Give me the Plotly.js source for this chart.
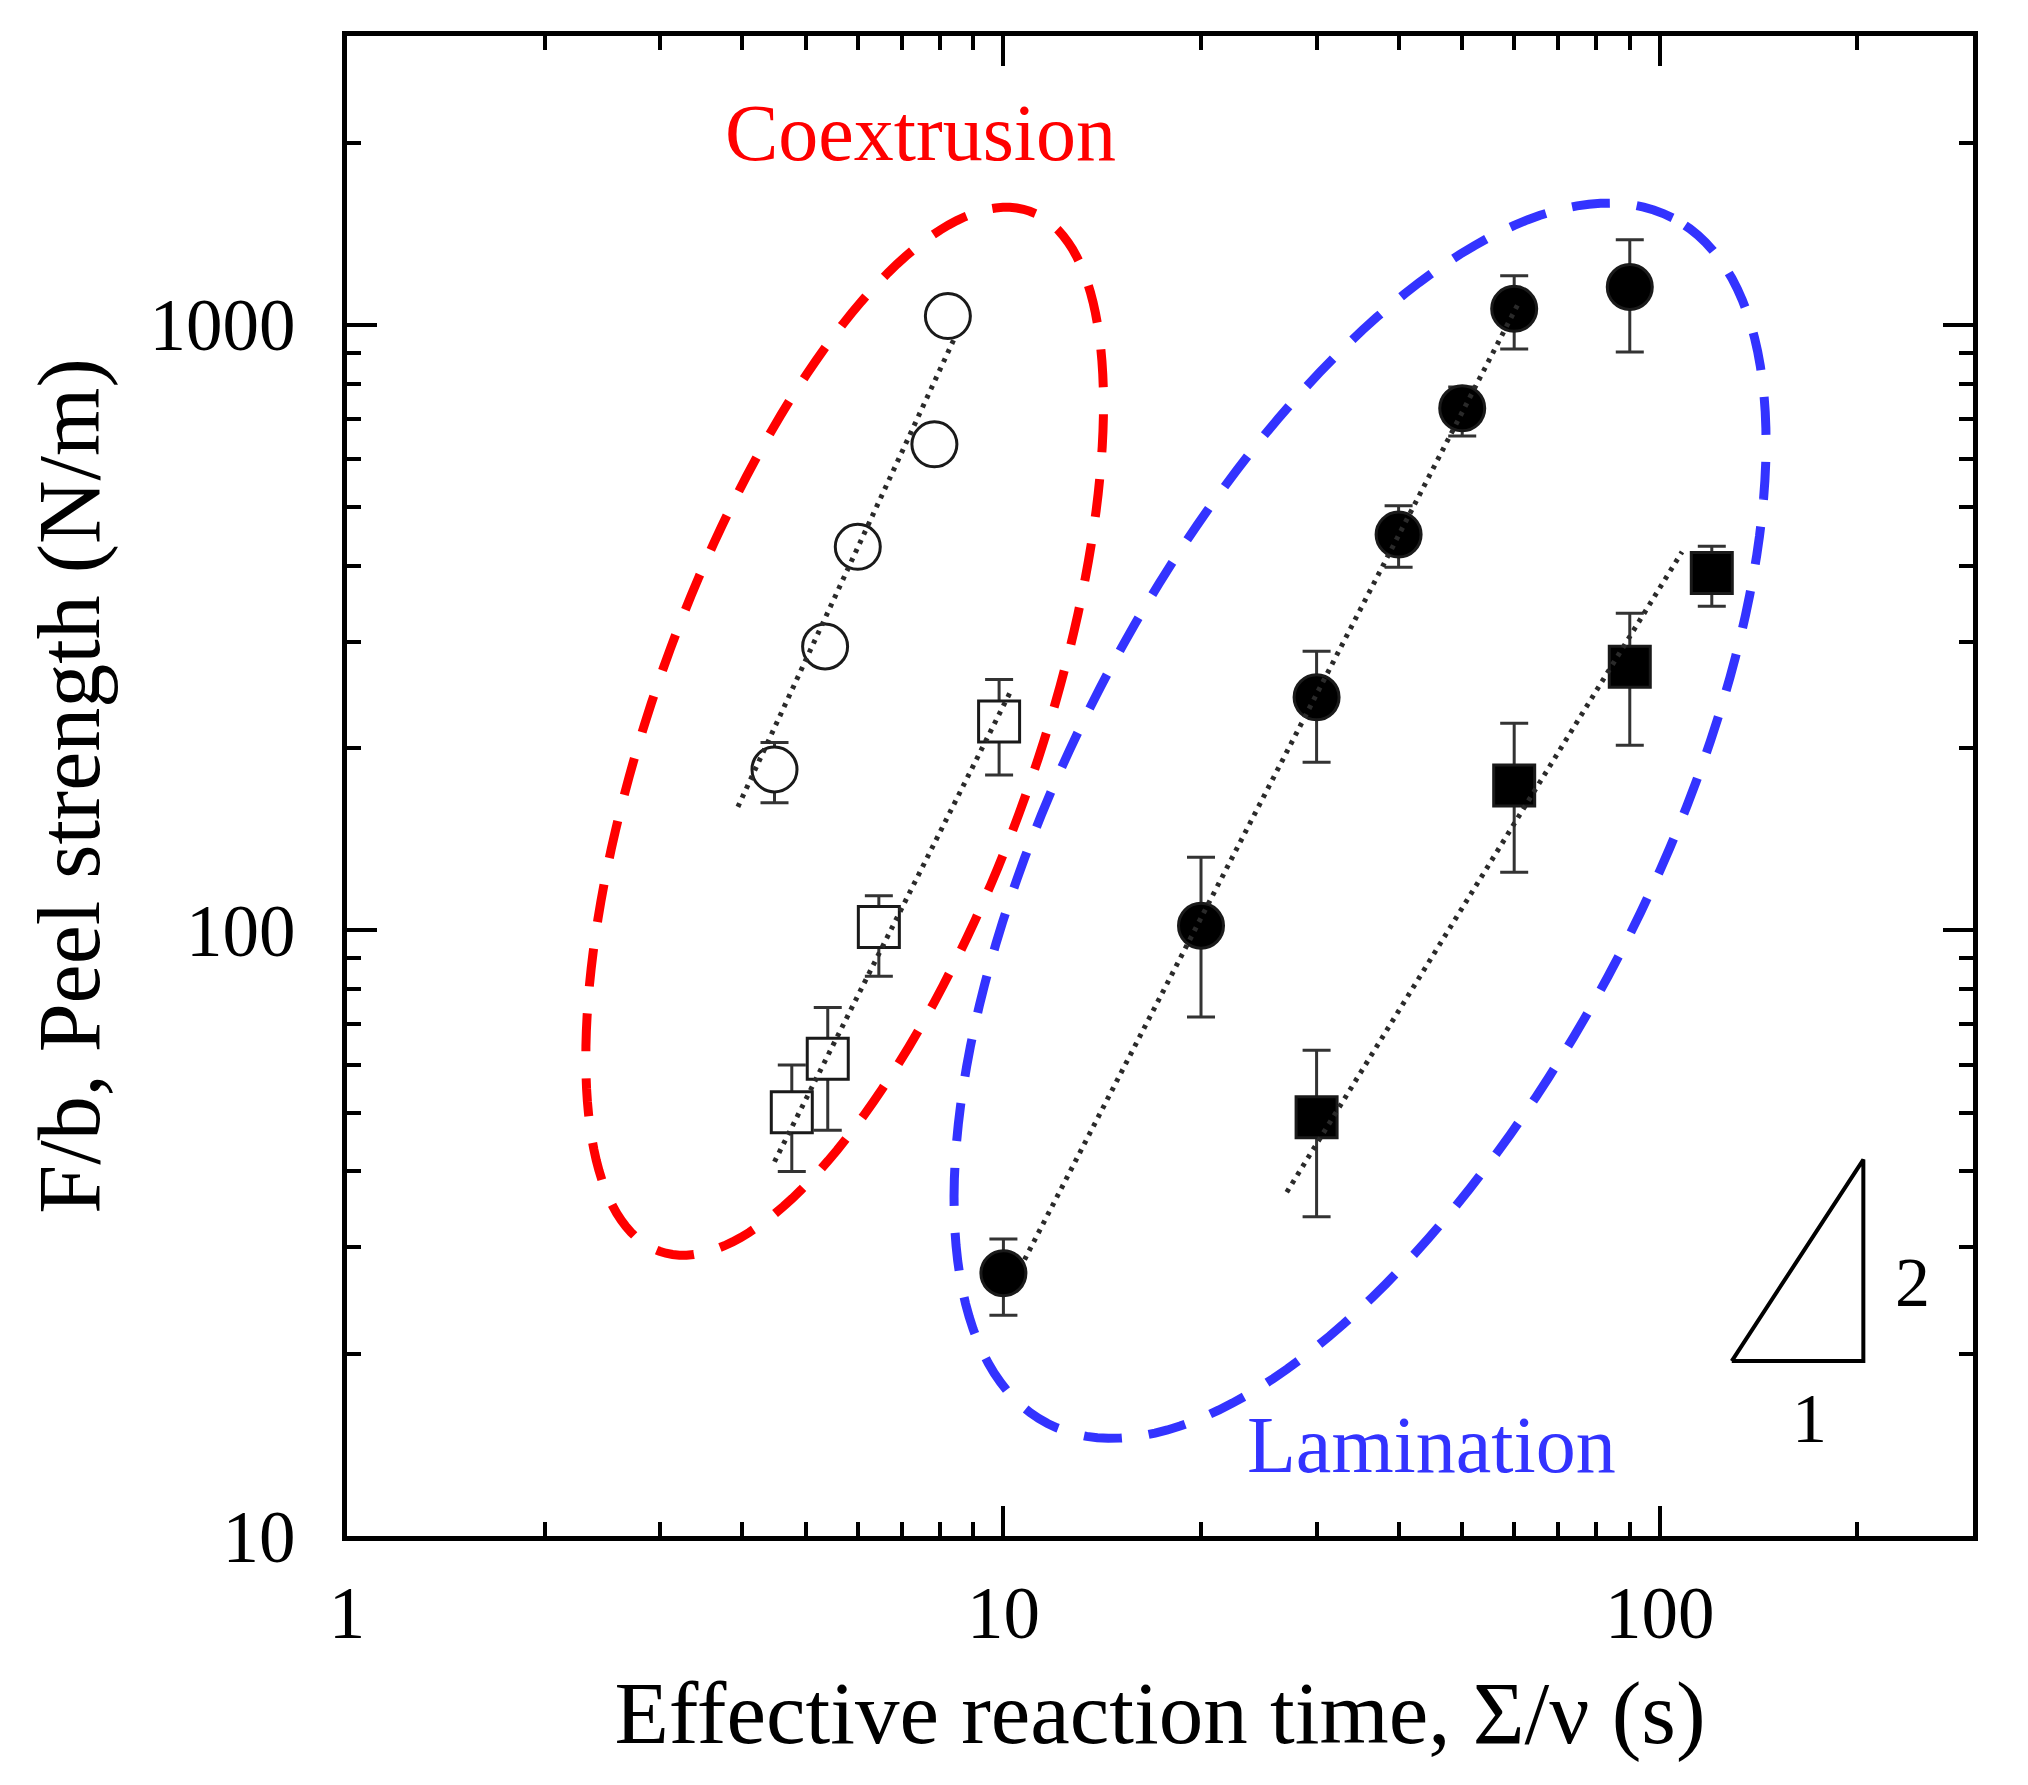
<!DOCTYPE html>
<html>
<head>
<meta charset="utf-8">
<script src="https://cdn.plot.ly/plotly-3.0.1.min.js"></script>
<style>html,body{margin:0;padding:0;background:#fff;}#chart{width:2028px;height:1785px;}</style>
</head>
<body>
<div id="chart"></div>
<script>
// ---- data ----
// Coextrusion, open circles
const coCircX = [4.48, 5.35, 6.0, 7.85, 8.23];
const coCircY = [184.5, 294.4, 430, 635, 1034];
const coCircHi = [204.4, 294.4, 430, 635, 1034];
const coCircLo = [162.5, 294.4, 430, 635, 1034];
// Coextrusion, open squares
const coSqX = [4.76, 5.4, 6.46, 9.85];
const coSqY = [50.1, 61.4, 101.3, 221.3];
const coSqHi = [59.97, 74.6, 114.1, 259.7];
const coSqLo = [40.0, 46.8, 84.0, 180.6];
// Lamination, filled circles
const lamCircX = [10, 20, 30, 40, 50, 60, 90];
const lamCircY = [27.16, 101.8, 242.7, 450.5, 728.3, 1063, 1155];
const lamCircHi = [30.95, 132.1, 289, 502.6, 790, 1206, 1382];
const lamCircLo = [23.14, 71.97, 189.5, 398, 655.6, 912.8, 902];
// Lamination, filled squares
const lamSqX = [30, 60, 90, 120];
const lamSqY = [49.16, 173.6, 272.6, 389.4];
const lamSqHi = [63.43, 219.8, 334.2, 431.2];
const lamSqLo = [33.68, 124.8, 202.3, 343];
// Dotted power-law guide lines (end points)
const fitCoCircX = [3.94, 8.42];
const fitCoCircY = [160, 950];
const fitCoSqX = [4.48, 10.29];
const fitCoSqY = [41.5, 250];
const fitLamCircX = [10.77, 61.2];
const fitLamCircY = [28.6, 1097];
const fitLamSqX = [27.02, 108.1];
const fitLamSqY = [36.96, 421.9];
// Slope triangle (2:1)
const triX = [128.7, 204.2, 204.2, 128.7];
const triY = [19.45, 19.45, 41.85, 19.45];
// Axis ticks
const xTickVals = [1, 10, 100];
const xTickText = ['1', '10', '100'];
const yTickVals = [10, 100, 1000];
const yTickText = ['10', '100', '1000'];
const mantissas = [2, 3, 4, 5, 6, 7, 8, 9];
const xDecades = [1, 10, 100];
const yDecades = [10, 100, 1000];
// Group outlines (center in data units, semi-axes in px, tilt in degrees)
const groupNames = ['Coextrusion', 'Lamination'];
const groupCenterX = [5.73, 34.94];
const groupCenterY = [213.3, 151.8];
const groupA = [552, 679];
const groupB = [192, 292];
const groupTilt = [70.4, 62.6];
const groupColors = ['#ff0000', '#3333ff'];

// ---- layout constants ----
const W = 2028, H = 1785;
const M = {l: 347, r: 55, t: 36, b: 249};
const plotW = W - M.l - M.r, plotH = H - M.t - M.b;
const xRange = [0, Math.log10(300)];
const yRange = [1, Math.log10(3000)];
const FONT = 'Liberation Serif, Times New Roman, serif';

function minorVals(decades, lim) {
  const out = [];
  decades.forEach(d => mantissas.forEach(m => { if (m * d < lim) out.push(m * d); }));
  return out;
}
function diffs(a, b) { return a.map((v, i) => Math.max(0, v - b[i])); }

const errStyle = {color: '#333', thickness: 3, width: 14, visible: true, type: 'data'};
function markerTrace(x, y, hi, lo, symbol, fill, size) {
  return {
    type: 'scatter', mode: 'markers', x: x, y: y, showlegend: false,
    marker: {symbol: symbol, size: size, color: fill, line: {color: '#1a1a1a', width: 3}},
    error_y: Object.assign({}, errStyle, {symmetric: false, array: diffs(hi, y), arrayminus: diffs(y, lo)}),
    cliponaxis: false
  };
}
function fitTrace(x, y) {
  return {type: 'scatter', mode: 'lines', x: x, y: y, showlegend: false,
    line: {color: '#2a2a2a', width: 5, dash: '4px,6px'}};
}

const traces = [
  markerTrace(coCircX, coCircY, coCircHi, coCircLo, 'circle', '#ffffff', 45),
  markerTrace(coSqX, coSqY, coSqHi, coSqLo, 'square', '#ffffff', 41),
  markerTrace(lamCircX, lamCircY, lamCircHi, lamCircLo, 'circle', '#000000', 45),
  markerTrace(lamSqX, lamSqY, lamSqHi, lamSqLo, 'square', '#000000', 41),
  fitTrace(fitCoCircX, fitCoCircY),
  fitTrace(fitCoSqX, fitCoSqY),
  fitTrace(fitLamCircX, fitLamCircY),
  fitTrace(fitLamSqX, fitLamSqY),
  {type: 'scatter', mode: 'lines', x: triX, y: triY, showlegend: false,
   line: {color: '#000', width: 4}}
];

// ellipse outlines as paper-referenced paths
function toPaperX(v) { return (Math.log10(v) - xRange[0]) / (xRange[1] - xRange[0]); }
function toPaperY(v) { return (Math.log10(v) - yRange[0]) / (yRange[1] - yRange[0]); }
const shapes = groupNames.map((name, i) => {
  const cx = toPaperX(groupCenterX[i]), cy = toPaperY(groupCenterY[i]);
  const th = groupTilt[i] * Math.PI / 180, a = groupA[i], b = groupB[i];
  let d = '';
  const N = 180;
  for (let k = 0; k <= N; k++) {
    const t = 2 * Math.PI * k / N;
    const dx = a * Math.cos(th) * Math.cos(t) - b * Math.sin(th) * Math.sin(t);
    const dy = a * Math.sin(th) * Math.cos(t) + b * Math.cos(th) * Math.sin(t);
    d += (k === 0 ? 'M' : 'L') + (cx + dx / plotW).toFixed(5) + ',' + (cy + dy / plotH).toFixed(5);
  }
  d += 'Z';
  return {type: 'path', xref: 'paper', yref: 'paper', path: d, layer: 'above',
          line: {color: groupColors[i], width: 9, dash: '38px,27px'}};
});

const axisCommon = {
  type: 'log', showgrid: false, zeroline: false,
  showline: true, linecolor: '#000', linewidth: 5, mirror: 'allticks',
  ticks: 'inside', ticklen: 30, tickwidth: 4, tickcolor: '#000',
  tickmode: 'array',
  tickfont: {family: FONT, size: 73, color: '#000'},
  automargin: false
};

const layout = {
  width: W, height: H,
  margin: M,
  paper_bgcolor: '#fff', plot_bgcolor: '#fff',
  showlegend: false,
  xaxis: Object.assign({}, axisCommon, {
    range: xRange, tickvals: xTickVals, ticktext: xTickText,
    ticklabelstandoff: 9,
    minor: {tickmode: 'array', tickvals: minorVals(xDecades, 300), ticks: 'inside', ticklen: 14, tickwidth: 4, tickcolor: '#000'},
    title: {text: 'Effective reaction time, \u03A3/\u03BD (s)', font: {family: FONT, size: 89, color: '#000'}, standoff: 30}
  }),
  yaxis: Object.assign({}, axisCommon, {
    range: yRange, tickvals: yTickVals, ticktext: yTickText,
    ticklabelstandoff: 32,
    minor: {tickmode: 'array', tickvals: minorVals(yDecades, 3000), ticks: 'inside', ticklen: 14, tickwidth: 4, tickcolor: '#000'},
    title: {text: 'F/b, Peel strength (N/m)', font: {family: FONT, size: 88, color: '#000'}, standoff: 22}
  }),
  shapes: shapes,
  annotations: [
    {xref: 'paper', yref: 'paper', x: 0.3529, y: 0.935, text: groupNames[0], showarrow: false,
     xanchor: 'center', yanchor: 'middle', font: {family: FONT, size: 80, color: groupColors[0]}},
    {xref: 'paper', yref: 'paper', x: 0.6672, y: 0.061, text: groupNames[1], showarrow: false,
     xanchor: 'center', yanchor: 'middle', font: {family: FONT, size: 80, color: groupColors[1]}},
    {xref: 'paper', yref: 'paper', x: 0.963, y: 0.169, text: '2', showarrow: false,
     xanchor: 'center', yanchor: 'middle', font: {family: FONT, size: 70, color: '#000'}},
    {xref: 'paper', yref: 'paper', x: 0.8996, y: 0.0785, text: '1', showarrow: false,
     xanchor: 'center', yanchor: 'middle', font: {family: FONT, size: 70, color: '#000'}}
  ]
};

Plotly.newPlot('chart', traces, layout, {displayModeBar: false, staticPlot: true});
</script>
</body>
</html>
